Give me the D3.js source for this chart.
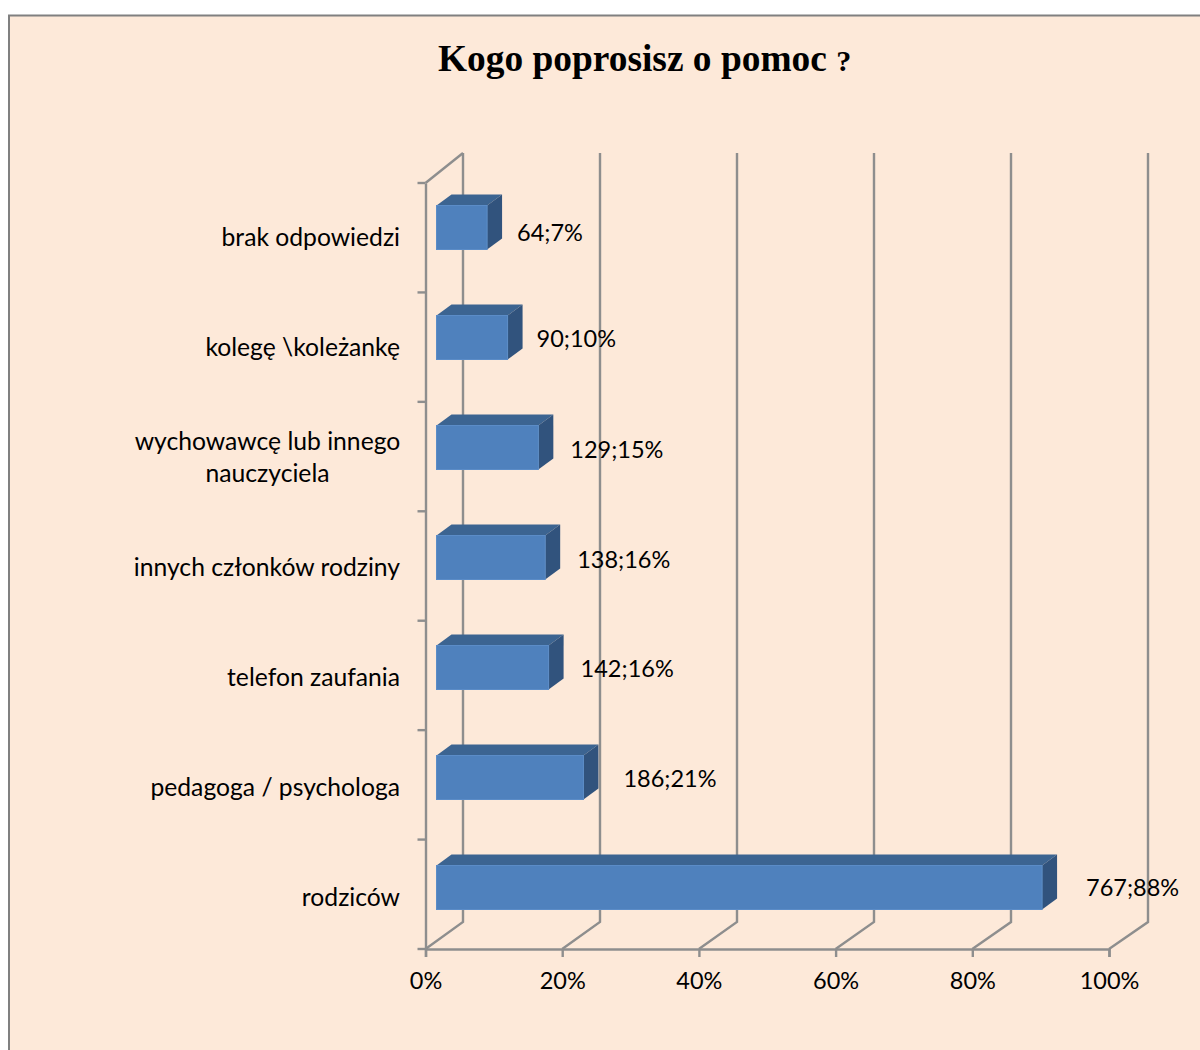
<!DOCTYPE html>
<html>
<head>
<meta charset="utf-8">
<script src="https://cdn.jsdelivr.net/npm/d3@7"></script>
<style>
  html, body { margin: 0; padding: 0; background: #fff; }
  svg { display: block; }
  text { font-family: Lato, "Open Sans", sans-serif; fill: #000; }
</style>
</head>
<body>
<svg id="chart" width="1200" height="1050"></svg>
<script>
// bottom to top, as drawn
const categories = [
    ["rodziców"],
    ["pedagoga / psychologa"],
    ["telefon zaufania"],
    ["innych członków rodziny"],
    ["wychowawcę lub innego", "nauczyciela"],
    ["kolegę \\koleżankę"],
    ["brak odpowiedzi"]
]
const shares = [88.6, 21.5, 16.4, 15.9, 14.9, 10.4, 7.4]
const valueLabels = ["767;88%", "186;21%", "142;16%", "138;16%", "129;15%", "90;10%", "64;7%"]
const xTicks = [0, 20, 40, 60, 80, 100]
const chartTitle = "Kogo poprosisz o pomoc"

let svg = d3.select("#chart")

let margin = { top: 183, right: 91, bottom: 101, left: 425.5 }
let width = +svg.attr("width")
let height = +svg.attr("height")

// depth of the 3d box
let depthY = 27
let wallTop = 153

// gaps between the bar end and its label, uneven in the original
let labelGap = [44, 40, 32, 32, 32, 29, 30]
let labelNudge = [0, 1, 1, 2, 2, 1, 5]

let axisColor = "#8e8e8e"
let axisWidth = 2.4

svg.append("rect")
    .attr("x", 9)
    .attr("y", 15.5)
    .attr("width", width)
    .attr("height", height)
    .style("fill", "#fde9d9")
    .style("stroke", "#808080")
    .style("stroke-width", 2)

let title = svg.append("text")
    .attr("x", 438)
    .attr("y", 71)
    .style("font-family", "'Liberation Serif', serif")
    .style("font-weight", "bold")
    .style("font-size", "37.4px")
    .text(chartTitle)
title.append("tspan")
    .style("font-size", "30px")
    .attr("dx", 2)
    .text(" ?")

let xScale = d3.scaleLinear()
    .domain([0, 100])
    .range([margin.left, width - margin.right])

// the back wall is a touch wider than the floor front
let xBack = d3.scaleLinear()
    .domain([0, 100])
    .range([463, 1148])

// wall ticks
let yScale = d3.scaleBand()
    .domain(d3.range(categories.length))
    .range([height - margin.bottom, margin.top])

// bars sit on a slightly wider step than the wall ticks
let barScale = d3.scaleBand()
    .domain(d3.range(categories.length))
    .range([942.5, 172.5])

// back wall and floor lines
let grid = svg.append("g")
    .style("fill", "none")
    .style("stroke", axisColor)
    .style("stroke-width", axisWidth)

xTicks.forEach(t => {
    grid.append("path")
        .attr("d", d3.line()([
            [xBack(t), wallTop],
            [xBack(t), height - margin.bottom - depthY],
            [xScale(t), height - margin.bottom]
        ]))
})
grid.append("path")
    .attr("d", d3.line()([
        [xScale(0), margin.top],
        [xBack(0), wallTop]
    ]))

let xAxis = d3.axisBottom(xScale)
    .tickValues(xTicks)
    .tickSize(8)
    .tickPadding(15)
    .tickFormat(d => d + "%")

let yAxis = d3.axisLeft(yScale)
    .tickValues([])
    .tickSize(0)

let gX = svg.append("g")
    .attr("transform", "translate(0," + (height - margin.bottom) + ")")
    .call(xAxis)

let gY = svg.append("g")
    .attr("transform", "translate(" + margin.left + ",0)")
    .call(yAxis)

gX.selectAll(".domain, .tick line").style("stroke", axisColor).style("stroke-width", axisWidth)
gY.select(".domain").style("stroke", axisColor).style("stroke-width", axisWidth)
gX.selectAll(".tick text")
    .style("font-family", "Lato, sans-serif")
    .style("font-size", "23.5px")
    .style("fill", "#000")

// category boundary ticks on the left wall
svg.append("g").selectAll("line")
    .data(d3.range(categories.length + 1))
    .enter().append("line")
        .attr("x1", margin.left - 8)
        .attr("x2", margin.left)
        .attr("y1", i => i < categories.length ? yScale(i) + yScale.bandwidth() : margin.top)
        .attr("y2", i => i < categories.length ? yScale(i) + yScale.bandwidth() : margin.top)
        .style("stroke", axisColor)
        .style("stroke-width", axisWidth)

// bars, front face starts a bit inside the floor
let barStart = 11
let barHeight = 44
let barDepthX = 15
let barDepthY = 11
let barTop = i => barScale(i) + barScale.bandwidth() / 2 - barHeight / 2
let barEnd = i => xScale(shares[i]) + barStart

let bars = svg.append("g").selectAll("g")
    .data(d3.range(shares.length))
    .enter().append("g")

bars.append("path")
    .style("fill", "#3c6491")
    .attr("d", i => d3.line()([
        [xScale(0) + barStart, barTop(i)],
        [xScale(0) + barStart + barDepthX, barTop(i) - barDepthY],
        [barEnd(i) + barDepthX, barTop(i) - barDepthY],
        [barEnd(i), barTop(i)]
    ]) + "Z")

bars.append("path")
    .style("fill", "#31537d")
    .attr("d", i => d3.line()([
        [barEnd(i), barTop(i)],
        [barEnd(i) + barDepthX, barTop(i) - barDepthY],
        [barEnd(i) + barDepthX, barTop(i) + barHeight - barDepthY],
        [barEnd(i), barTop(i) + barHeight]
    ]) + "Z")

bars.append("rect")
    .attr("x", xScale(0) + barStart)
    .attr("y", barTop)
    .attr("width", i => barEnd(i) - xScale(0) - barStart)
    .attr("height", barHeight)
    .style("fill", "#4f81bd")
    .style("stroke", "#5b8cc7")
    .style("stroke-width", 1)

// category names, wrapped ones are centred inside their block
let catLabels = svg.append("g").selectAll("text")
    .data(categories)
    .enter().append("text")
        .attr("text-anchor", "end")
        .style("font-size", "24.7px")
        .attr("y", (d, i) => barScale(i) + barScale.bandwidth() / 2 + 18 - (d.length - 1) * 16)

catLabels.each(function(d) {
    let el = d3.select(this)
    if (d.length === 1) {
        el.attr("x", 400).text(d[0])
    } else {
        el.attr("text-anchor", "middle")
        d.forEach((line, k) => {
            el.append("tspan").attr("x", 267.5).attr("dy", k ? 32 : 0).text(line)
        })
    }
})

svg.append("g").selectAll("text")
    .data(valueLabels)
    .enter().append("text")
        .attr("x", (d, i) => barEnd(i) + labelGap[i])
        .attr("y", (d, i) => barTop(i) + barHeight / 2 + labelNudge[i] + 8.5)
        .style("font-size", "23.5px")
        .text(d => d)
</script>
</body>
</html>
